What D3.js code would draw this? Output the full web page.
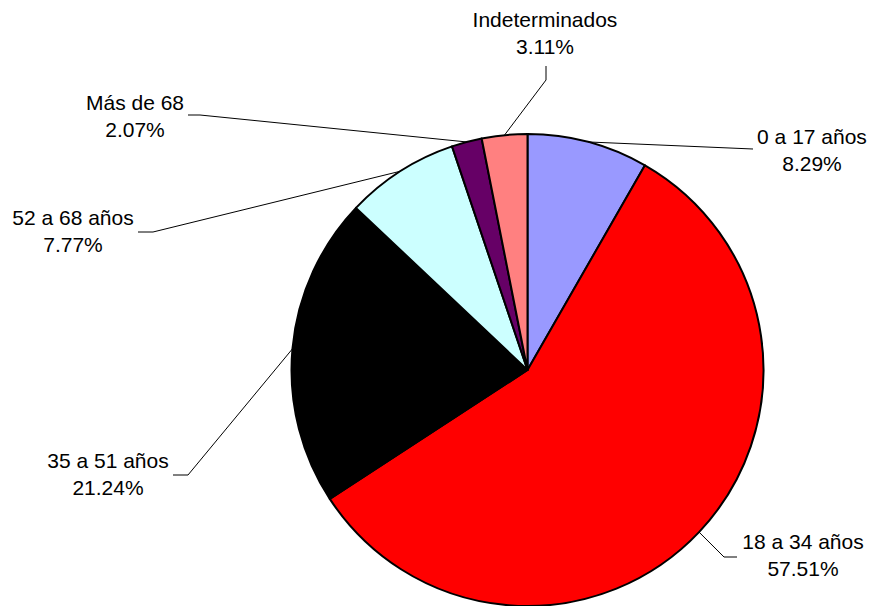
<!DOCTYPE html>
<html>
<head>
<meta charset="utf-8">
<script src="https://cdn.jsdelivr.net/npm/d3@7/dist/d3.min.js"></script>
<style>
  html, body { margin: 0; padding: 0; background: #fff; }
  svg { display: block; }
  text { font-family: Arial, "Liberation Sans", sans-serif; font-size: 21px; fill: #000; }
</style>
</head>
<body>
<svg id="chart" width="870" height="606"></svg>
<script>
// ---- data ----
const categories = ["0 a 17 años", "18 a 34 años", "35 a 51 años", "52 a 68 años", "Más de 68", "Indeterminados"];
const values = [8.29, 57.51, 21.24, 7.77, 2.07, 3.11];
const percentLabels = ["8.29%", "57.51%", "21.24%", "7.77%", "2.07%", "3.11%"];
const colors = ["#9999FF", "#FF0000", "#000000", "#CCFFFF", "#660066", "#FF8080"];

// ---- layout (label centers and leader elbows) ----
const labelCenter = [[812, 137], [803, 542], [108, 461], [73, 218], [135, 103], [545, 20]];
const leaderPts = [
  [[753, 149]],
  [[724, 557], [737, 557]],
  [[188, 475], [173, 475]],
  [[153, 232], [138, 232]],
  [[200, 115], [188, 115]],
  [[546, 80], [546, 66]]
];

const cx = 527.5, cy = 370, r = 236;
const lineGap = 27;

const svg = d3.select("#chart");
const g = svg.append("g").attr("transform", `translate(${cx},${cy})`);

const pie = d3.pie().sort(null).value(d => d)(values);
const arc = d3.arc().innerRadius(0).outerRadius(r);

g.selectAll("path.slice")
  .data(pie)
  .join("path")
  .attr("class", "slice")
  .attr("d", arc)
  .attr("fill", (d, i) => colors[i])
  .attr("stroke", "#000")
  .attr("stroke-width", 2)
  .attr("stroke-linejoin", "round");

// leader lines
const line = d3.line();
pie.forEach((d, i) => {
  const a = (d.startAngle + d.endAngle) / 2;
  const start = [cx + r * Math.sin(a), cy - r * Math.cos(a)];
  const pts = [start].concat(leaderPts[i]);
  svg.append("path")
    .attr("d", line(pts))
    .attr("fill", "none")
    .attr("stroke", "#000")
    .attr("stroke-width", 1);
});

// labels
categories.forEach((c, i) => {
  const [x, y] = labelCenter[i];
  const t = svg.append("text").attr("text-anchor", "middle");
  t.append("tspan").attr("x", x).attr("y", y).attr("dy", "0.35em").text(c);
  t.append("tspan").attr("x", x).attr("y", y + lineGap).attr("dy", "0.35em").text(percentLabels[i]);
});
</script>
</body>
</html>
